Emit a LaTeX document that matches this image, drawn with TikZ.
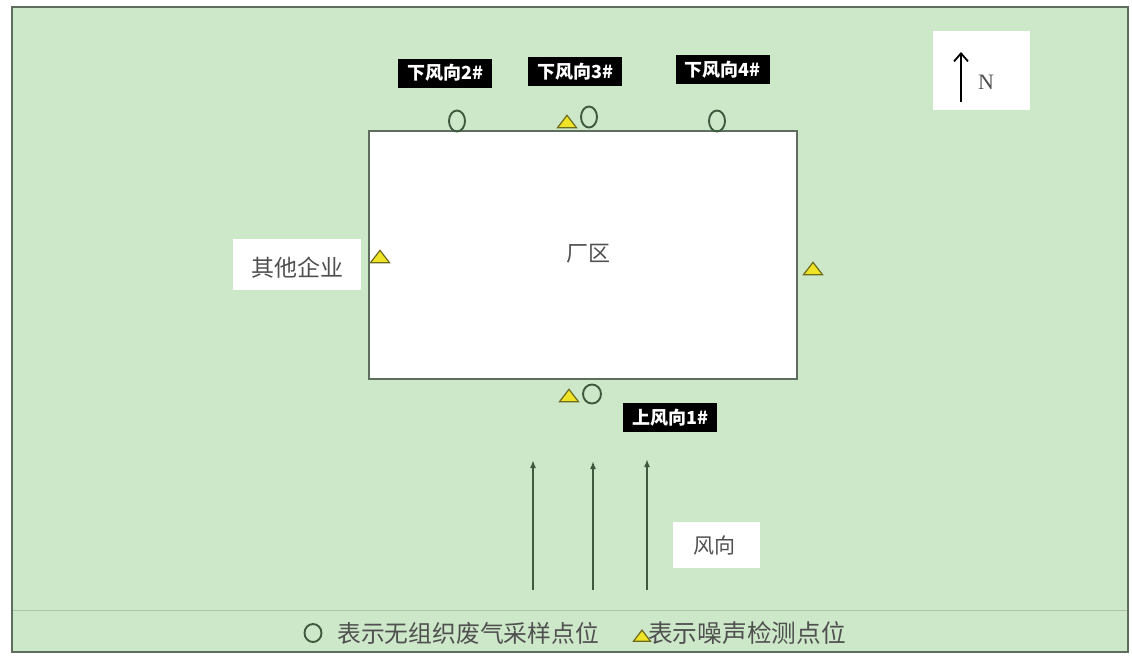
\documentclass[tikz,border=0pt]{standalone}
\usepackage{fontspec}
\setmainfont{Liberation Serif}
\newfontfamily\cjk{Noto Sans CJK SC}
\usetikzlibrary{shapes.geometric,arrows.meta}
\definecolor{bgg}{HTML}{CDE8C9}
\definecolor{edgeg}{HTML}{5E6E5E}
\definecolor{ptg}{HTML}{3E5A3E}
\definecolor{triy}{HTML}{EFE326}
\definecolor{trib}{HTML}{6E6A1E}
\definecolor{txtg}{HTML}{505050}
\tikzset{
  whitebox/.style={draw=none,fill=white,inner sep=0pt},
  blacklabel/.style={fill=black,text=white,font=\cjk\bfseries\fontsize{18}{18}\selectfont,inner sep=0pt,minimum height=29pt,minimum width=94pt},
  sample/.style={draw=ptg,line width=1.9pt,ellipse,minimum width=16pt,minimum height=21pt,inner sep=0pt},
  noise/.style={draw=trib,fill=triy,line width=1.2pt,isosceles triangle,isosceles triangle apex angle=75,shape border rotate=90,minimum width=19pt,minimum height=11pt,inner sep=0pt},
  wind/.style={draw=ptg,line width=1.6pt,-{Latex[length=8pt,width=6pt]}},
  cjktext/.style={text=txtg,font=\cjk\fontsize{21}{21}\selectfont}
}
\begin{document}
\begin{tikzpicture}[x=1pt,y=-1pt]
\useasboundingbox (0,0) rectangle (1132,657);
\fill[white] (0,0) rectangle (1132,657);
\node[draw=edgeg,line width=2pt,fill=bgg,minimum width=1116pt,minimum height=645pt,inner sep=0pt] (frame) at (570,329.5) {};
\coordinate (sepl) at (13,610);
\coordinate (sepr) at (1127,610);
\draw[color=bgg!85!black,line width=1pt] (sepl) -- (sepr);
% factory
\node[draw=edgeg,line width=1.5pt,fill=white,minimum width=428pt,minimum height=248pt,inner sep=0pt] (factory) at (583,255) {};
\node[cjktext,font=\cjk\fontsize{22}{22}\selectfont] (fl) at (588,254) {厂区};
% other company
\node[whitebox,minimum width=128pt,minimum height=51pt] (other) at (297,264.5) {};
\node[cjktext,font=\cjk\fontsize{23}{23}\selectfont] (otherl) at (297,268) {其他企业};
% North
\node[whitebox,minimum width=97pt,minimum height=79pt] (nbox) at (981.5,70.5) {};
\coordinate (ns) at (961,102);
\coordinate (ne) at (961,52);
\draw[line width=1.8pt,-{Straight Barb[length=8pt,width=14pt,line width=1.8pt]}] (ns) -- (ne);
\node[text=txtg,font=\fontsize{22}{22}\selectfont] (nl) at (986,82) {N};
% labels
\node[blacklabel] (d2) at (445,73) {下风向2\#};
\node[blacklabel] (d3) at (575,71.5) {下风向3\#};
\node[blacklabel] (d4) at (722.5,69.5) {下风向4\#};
\node[blacklabel] (u1) at (670,417.5) {上风向1\#};
% sample points
\node[sample] (s2) at (457,121) {};
\node[sample] (s3) at (589,117) {};
\node[sample] (s4) at (717,121) {};
\node[sample,minimum width=18pt,minimum height=19pt] (s1) at (592,394) {};
% noise points
\node[noise] (n3) at (567,123) {};
\node[noise] (n1) at (569,397) {};
\node[noise] (nw) at (380,258) {};
\node[noise] (ne2) at (813,270) {};
% wind arrows
\coordinate (a1s) at (533,590);
\coordinate (a1e) at (533,460);
\coordinate (a2s) at (593,590);
\coordinate (a2e) at (593,461);
\coordinate (a3s) at (647,590);
\coordinate (a3e) at (647,459);
\draw[wind] (a1s) -- (a1e);
\draw[wind] (a2s) -- (a2e);
\draw[wind] (a3s) -- (a3e);
\node[whitebox,minimum width=87pt,minimum height=46pt] (wbox) at (716.5,545) {};
\node[cjktext] (wl) at (714,545) {风向};
% legend
\node[sample,minimum width=17pt,minimum height=18pt] (lc) at (313,633) {};
\node[cjktext,anchor=west,font=\cjk\fontsize{23.8}{23.8}\selectfont,inner sep=0pt] (lct) at (337,633) {表示无组织废气采样点位};
\node[noise,minimum width=17pt,minimum height=9pt] (lt) at (642,637) {};
\node[cjktext,anchor=west,font=\cjk\fontsize{24.7}{24.7}\selectfont,inner sep=0pt] (ltt) at (648,633) {表示噪声检测点位};
\end{tikzpicture}
\end{document}
